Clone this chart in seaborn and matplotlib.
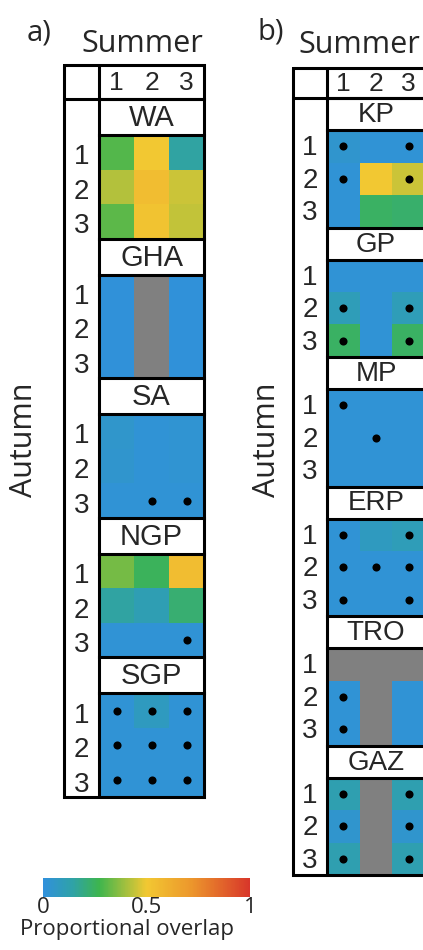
import numpy as np
import matplotlib
matplotlib.use("Agg")
import matplotlib.pyplot as plt
from matplotlib.colors import LinearSegmentedColormap
import seaborn as sns

nan = np.nan

# Seasonal classes (rows: autumn, columns: summer)
summer_classes = ["1", "2", "3"]
autumn_classes = ["1", "2", "3"]

# Panel a) regions and proportional overlap values
regions_a = ["WA", "GHA", "SA", "NGP", "SGP"]
wa = [[0.30, 0.50, 0.15], [0.42, 0.55, 0.45], [0.31, 0.52, 0.44]]
gha = [[0.01, nan, 0.01], [0.01, nan, 0.01], [0.01, nan, 0.01]]
sa = [[0.05, 0.02, 0.03], [0.04, 0.02, 0.03], [0.02, 0.02, 0.02]]
ngp = [[0.34, 0.25, 0.55], [0.15, 0.11, 0.22], [0.02, 0.02, 0.02]]
sgp = [[0.02, 0.08, 0.02], [0.02, 0.02, 0.02], [0.02, 0.02, 0.02]]

# Significance markers for panel a)
wa_sig = [[0, 0, 0], [0, 0, 0], [0, 0, 0]]
gha_sig = [[0, 0, 0], [0, 0, 0], [0, 0, 0]]
sa_sig = [[0, 0, 0], [0, 0, 0], [0, 1, 1]]
ngp_sig = [[0, 0, 0], [0, 0, 0], [0, 0, 1]]
sgp_sig = [[1, 1, 1], [1, 1, 1], [1, 1, 1]]

# Panel b) regions and proportional overlap values
regions_b = ["KP", "GP", "MP", "ERP", "TRO", "GAZ"]
kp = [[0.04, 0.02, 0.02], [0.02, 0.50, 0.45], [0.02, 0.24, 0.23]]
gp = [[0.02, 0.02, 0.02], [0.10, 0.02, 0.10], [0.24, 0.02, 0.24]]
mp = [[0.02, 0.02, 0.02], [0.02, 0.02, 0.02], [0.02, 0.02, 0.02]]
erp = [[0.02, 0.08, 0.10], [0.02, 0.02, 0.02], [0.02, 0.02, 0.02]]
tro = [[nan, nan, nan], [0.02, nan, 0.02], [0.02, nan, 0.02]]
gaz = [[0.12, nan, 0.12], [0.04, nan, 0.04], [0.12, nan, 0.12]]

# Significance markers for panel b)
kp_sig = [[1, 0, 1], [1, 0, 1], [0, 0, 0]]
gp_sig = [[0, 0, 0], [1, 0, 1], [1, 0, 1]]
mp_sig = [[1, 0, 0], [0, 1, 0], [0, 0, 0]]
erp_sig = [[1, 0, 1], [1, 1, 1], [1, 0, 1]]
tro_sig = [[0, 0, 0], [1, 0, 0], [1, 0, 0]]
gaz_sig = [[1, 0, 1], [1, 0, 1], [1, 0, 1]]

colorbar_ticks = [0, 0.5, 1]
colorbar_ticklabels = ["0", "0.5", "1"]

# ---------------------------------------------------------------------------
sns.set_style("white")
plt.rcParams["font.family"] = ["Liberation Sans", "DejaVu Sans"]

W, H = 423, 950
fig = plt.figure(figsize=(W / 100, H / 100), dpi=100)

cmap = LinearSegmentedColormap.from_list(
    "overlap",
    [(0.00, "#3090DC"), (0.14, "#2FA2A8"), (0.27, "#3DB54E"),
     (0.50, "#F2C832"), (0.72, "#EC962C"), (1.00, "#D8362A")])

GRAY = "#808080"
LW = 2.2
label_font = "Open Sans"


def px_axes(x, y, w, h, **kw):
    return fig.add_axes([x / W, 1 - (y + h) / H, w / W, h / H], **kw)


overlay = px_axes(0, 0, W, H, zorder=10)
overlay.set_xlim(0, W)
overlay.set_ylim(H, 0)
overlay.axis("off")


def draw_panel(regions, values, sigs, x0, x_div, x1, y_top, y_head,
               box_h, heat_h, fs_head, fs_box, fs_row, row_dy):
    col_w = (x1 - x_div) / 3
    block_h = box_h + heat_h
    y_end = y_head + len(regions) * block_h

    for i, (name, vals, sig) in enumerate(zip(regions, values, sigs)):
        yb = y_head + i * block_h
        yh = yb + box_h
        ax = px_axes(x_div, yh, x1 - x_div, heat_h)
        df = np.array(vals, dtype=float)
        sns.heatmap(df, ax=ax, cmap=cmap, vmin=0, vmax=1, cbar=False,
                    xticklabels=False, yticklabels=False, linewidths=0)
        ax.set_facecolor(GRAY)
        rr, cc = np.nonzero(np.array(sig))
        ax.scatter(cc + 0.5, rr + 0.5, s=34, color="black", zorder=5,
                   linewidths=0)
        ax.set_xlim(0, 3)
        ax.set_ylim(3, 0)
        for s in ax.spines.values():
            s.set_visible(False)

        overlay.text((x_div + x1) / 2, yb + box_h / 2 + 1, name,
                     ha="center", va="center", fontsize=fs_box)
        overlay.plot([x_div, x1], [yb, yb], color="black", lw=LW,
                     solid_capstyle="projecting")
        overlay.plot([x_div, x1], [yh, yh], color="black", lw=LW,
                     solid_capstyle="projecting")
        for r, lab in enumerate(autumn_classes):
            overlay.text((x0 + x_div) / 2, yh + (r + 0.5) * heat_h / 3 + row_dy,
                         lab, ha="center", va="center", fontsize=fs_row)

    # header row with summer classes
    for c, lab in enumerate(summer_classes):
        overlay.text(x_div + (c + 0.5) * col_w, (y_top + y_head) / 2 + 1, lab,
                     ha="center", va="center", fontsize=fs_head)

    # table frame
    overlay.plot([x0, x1, x1, x0, x0], [y_top, y_top, y_end, y_end, y_top],
                 color="black", lw=LW, solid_joinstyle="miter")
    overlay.plot([x_div, x_div], [y_top, y_end], color="black", lw=LW)
    overlay.plot([x0, x1], [y_head, y_head], color="black", lw=LW)
    return y_end


draw_panel(regions_a, [wa, gha, sa, ngp, sgp],
           [wa_sig, gha_sig, sa_sig, ngp_sig, sgp_sig],
           x0=64, x_div=99, x1=204, y_top=65, y_head=99,
           box_h=36, heat_h=103.6, fs_head=19, fs_box=21, fs_row=20, row_dy=5)

draw_panel(regions_b, [kp, gp, mp, erp, tro, gaz],
           [kp_sig, gp_sig, mp_sig, erp_sig, tro_sig, gaz_sig],
           x0=293, x_div=327, x1=425, y_top=68, y_head=98,
           box_h=32, heat_h=97.5, fs_head=19, fs_box=20, fs_row=20, row_dy=2)

# Panel titles and axis names
overlay.text(27, 33, "a)", ha="left", va="center", fontsize=21,
             family=label_font)
overlay.text(142, 44, "Summer", ha="center", va="center", fontsize=22,
             family=label_font)
overlay.text(258, 32, "b)", ha="left", va="center", fontsize=21,
             family=label_font)
overlay.text(298, 45, "Summer", ha="left", va="center", fontsize=22,
             family=label_font)
overlay.text(24, 440, "Autumn", ha="center", va="center", rotation=90,
             fontsize=22, family=label_font)
overlay.text(267, 440, "Autumn", ha="center", va="center", rotation=90,
             fontsize=22, family=label_font)

# Colour bar
cax = px_axes(43, 878, 207, 19)
sm = plt.cm.ScalarMappable(cmap=cmap, norm=plt.Normalize(0, 1))
cb = fig.colorbar(sm, cax=cax, orientation="horizontal")
cb.outline.set_visible(False)
cb.set_ticks(colorbar_ticks)
cb.set_ticklabels(colorbar_ticklabels)
cax.tick_params(length=0, pad=0, labelsize=16)
for t in cax.get_xticklabels():
    t.set_family(label_font)
overlay.text(127, 929, "Proportional overlap", ha="center", va="center",
             fontsize=16, family=label_font)

fig.savefig("out.png", dpi=100)
